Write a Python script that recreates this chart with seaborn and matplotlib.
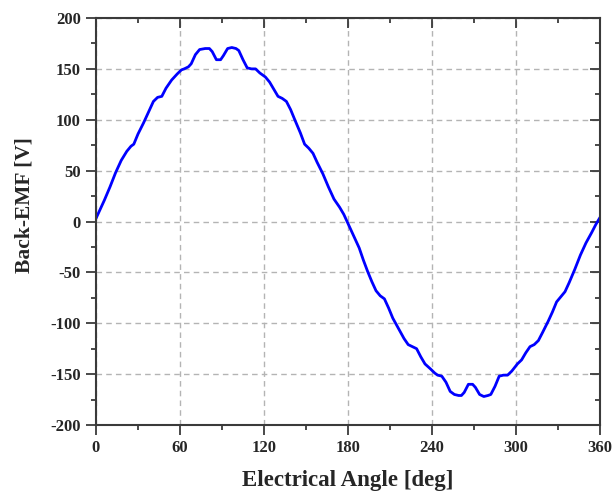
import numpy as np
import pandas as pd
import matplotlib
matplotlib.use("Agg")
import matplotlib.pyplot as plt
import seaborn as sns
from matplotlib.ticker import MultipleLocator

# Back-EMF readings (deg, V)
angle = [0, 3, 6, 10, 14, 18, 22, 25, 27, 30, 34, 38, 41, 44, 47, 50, 54, 58, 61, 63,
         66, 68, 71, 74, 78, 81, 83, 86, 89, 91, 94, 97, 100, 102, 105, 108, 111, 114, 117, 121,
         124, 127, 130, 133, 136, 139, 142, 146, 149, 152, 155, 158, 162, 166, 170, 174, 177, 180,
         184, 188, 191, 194, 197, 200, 203, 206, 209, 212, 216, 220, 223, 226, 229, 232, 235, 239,
         242, 244, 247, 250, 253, 256, 259, 261, 263, 266, 269, 271, 274, 277, 280, 282, 285, 288,
         291, 294, 297, 301, 304, 307, 310, 313, 316, 319, 323, 326, 329, 332, 335, 338, 342, 346,
         350, 354, 357, 360]
emf = [3, 12, 21, 34, 48, 60, 69, 74, 76, 86, 97, 109, 118, 122, 123, 131, 139, 145, 149, 150,
       152, 155, 164, 169, 170, 170, 167, 159, 159, 163, 170, 171, 170, 168, 159, 151, 150, 150, 146, 142,
       137, 130, 123, 121, 118, 110, 100, 87, 76, 72, 67, 58, 47, 34, 22, 14, 7, -2,
       -14, -26, -38, -49, -59, -68, -73, -76, -85, -95, -105, -115, -121, -123, -125, -133, -140, -145,
       -149, -151, -152, -158, -167, -170, -171, -171, -168, -160, -160, -163, -170, -172, -171, -170, -162, -152,
       -151, -151, -147, -140, -136, -129, -123, -121, -117, -109, -98, -89, -79, -74, -69, -60, -47, -33,
       -21, -11, -3, 4]

df = pd.DataFrame({"angle": angle, "emf": emf})

sns.set_style("white")
plt.rcParams['font.family'] = ['Liberation Serif', 'DejaVu Serif']
plt.rcParams['font.weight'] = 'bold'
plt.rcParams['axes.unicode_minus'] = False

fig = plt.figure(figsize=(6.14, 4.94), dpi=100)
ax = fig.add_axes([96/614, 1 - 425/494, 504/614, 407/494])

sns.lineplot(data=df, x="angle", y="emf", ax=ax, color="#0000ff", linewidth=2.0)

ax.set_xlim(0, 360)
ax.set_ylim(-200, 200)
ax.xaxis.set_major_locator(MultipleLocator(60))
ax.xaxis.set_minor_locator(MultipleLocator(30))
ax.yaxis.set_major_locator(MultipleLocator(50))
ax.yaxis.set_minor_locator(MultipleLocator(25))

ax.grid(True, which="major", linestyle=(0, (4, 3)), color="#b4b4b4", linewidth=1.0)

for s in ax.spines.values():
    s.set_color("#3a3a3a")
    s.set_linewidth(1.5)

ax.tick_params(which="major", direction="out", length=7, width=1.3, color="#3a3a3a",
               labelsize=12, pad=4, bottom=True, left=True)
ax.tick_params(which="minor", direction="out", length=3.5, width=1.3, color="#3a3a3a",
               bottom=True, left=True)
ax.tick_params(which="both", top=True, right=True)
for t in ax.xaxis.get_ticklines(minor=False)[1::2] + ax.xaxis.get_ticklines(minor=True)[1::2]:
    t.set_marker(3)  # top ticks pointing in
for t in ax.yaxis.get_ticklines(minor=False)[1::2] + ax.yaxis.get_ticklines(minor=True)[1::2]:
    t.set_marker(0)  # right ticks pointing in

for lbl in ax.get_xticklabels() + ax.get_yticklabels():
    lbl.set_fontweight("bold")

ax.set_xlabel("Electrical Angle [deg]", fontsize=16.5, fontweight="bold")
ax.set_ylabel("Back-EMF [V]", fontsize=15.5, fontweight="bold")
ax.xaxis.set_label_coords(0.5, -0.11)
ax.yaxis.set_label_coords(-0.123, 0.54)

fig.savefig("out.png", dpi=100)
